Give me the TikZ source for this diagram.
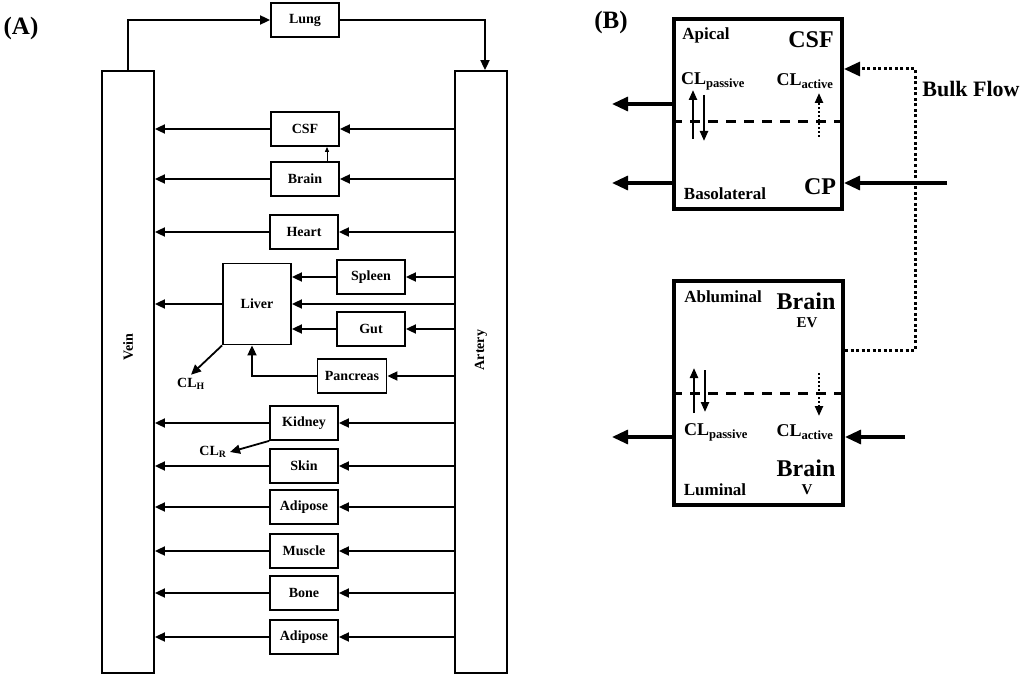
\documentclass[tikz,border=0pt]{standalone}
\usepackage{fontspec}
\setmainfont{Liberation Serif}
\usetikzlibrary{arrows.meta,positioning}

\begin{document}
\begin{tikzpicture}[x=1pt,y=-1pt]
\tikzstyle{every node}=[font=\bfseries\fontsize{14}{16}\selectfont];
\tikzstyle{organ}=[draw,line width=1.8pt,minimum width=68pt,minimum height=34pt,inner sep=0pt];
\tikzstyle{bar}=[draw,line width=1.8pt,minimum width=52pt,minimum height=602pt,inner sep=0pt];
\tikzstyle{flow}=[line width=1.8pt,-{Triangle[length=10pt,width=9pt]}];
\tikzstyle{tinyflow}=[line width=1pt,-{Triangle[length=5pt,width=4pt]}];
\tikzstyle{tank}=[draw,line width=4pt,inner sep=0pt];
\tikzstyle{bigflow}=[line width=3.2pt,-{Triangle[length=16pt,width=14pt]}];
\tikzstyle{passflow}=[line width=2.2pt,-{Triangle[length=10pt,width=8pt]}];
\tikzstyle{actflow}=[line width=2.2pt,dash pattern=on 2pt off 2pt,-{Triangle[length=10pt,width=8pt]}];
\tikzstyle{membrane}=[line width=3pt,dash pattern=on 10pt off 8pt];
\tikzstyle{bulk}=[line width=3pt,dash pattern=on 3pt off 2.5pt];
\tikzstyle{side}=[font=\bfseries\fontsize{17}{19}\selectfont];
\tikzstyle{big}=[font=\bfseries\fontsize{24}{26}\selectfont];
\tikzstyle{cl}=[font=\bfseries\fontsize{18}{20}\selectfont];
\tikzstyle{panel}=[font=\bfseries\fontsize{25}{27}\selectfont];
\useasboundingbox (0,0) rectangle (1024,679);

% (A) whole body model
\node[panel] (labA) at (21,28) {(A)};
\node[bar] (vein) at (128,372) {};
\node[bar] (artery) at (481,372) {};
\node[rotate=90] (veinlab) at (128,347) {Vein};
\node[rotate=90] (arterylab) at (481,350) {Artery};
\node[organ] (lung) at (305,20) {Lung};
\node[organ] (csf) at (305,129) {CSF};
\node[organ] (brain) at (305,179) {Brain};
\node[organ] (heart) at (304,232) {Heart};
\node[organ,minimum height=81pt] (liver) at (257,304) {Liver};
\node[organ] (spleen) at (371,277) {Spleen};
\node[organ] (gut) at (371,329) {Gut};
\node[organ,minimum width=69pt] (pancreas) at (352,376) {Pancreas};
\node[organ] (kidney) at (304,423) {Kidney};
\node[organ] (skin) at (304,466) {Skin};
\node[organ] (adiposeA) at (304,507) {Adipose};
\node[organ] (muscle) at (304,551) {Muscle};
\node[organ] (bone) at (304,593) {Bone};
\node[organ] (adiposeB) at (304,637) {Adipose};
\node (clh) at (191,384) {CL\textsubscript{H}};
\node (clr) at (213,452) {CL\textsubscript{R}};

\draw[flow] (vein.north) |- (lung.west);
\draw[flow] (lung.east) -| ([xshift=4pt]artery.north);
\draw[tinyflow] ([xshift=22pt]brain.north) -- ([xshift=22pt]csf.south);
\draw[flow] (artery.west |- csf) -- (csf.east);
\draw[flow] (csf.west) -- (vein.east |- csf);
\draw[flow] (artery.west |- brain) -- (brain.east);
\draw[flow] (brain.west) -- (vein.east |- brain);
\draw[flow] (artery.west |- heart) -- (heart.east);
\draw[flow] (heart.west) -- (vein.east |- heart);
\draw[flow] (artery.west |- spleen) -- (spleen.east);
\draw[flow] (spleen.west) -- (liver.east |- spleen);
\draw[flow] (artery.west |- liver) -- (liver.east);
\draw[flow] (artery.west |- gut) -- (gut.east);
\draw[flow] (gut.west) -- (liver.east |- gut);
\draw[flow] (artery.west |- pancreas) -- (pancreas.east);
\draw[flow] (pancreas.west) -| ([xshift=-5pt]liver.south);
\draw[flow] (liver.west) -- (vein.east |- liver);
\draw[flow] (liver.south west) -- (clh.north);
\draw[flow] (artery.west |- kidney) -- (kidney.east);
\draw[flow] (kidney.west) -- (vein.east |- kidney);
\draw[flow] (kidney.south west) -- (clr.east);
\draw[flow] (artery.west |- skin) -- (skin.east);
\draw[flow] (skin.west) -- (vein.east |- skin);
\draw[flow] (artery.west |- adiposeA) -- (adiposeA.east);
\draw[flow] (adiposeA.west) -- (vein.east |- adiposeA);
\draw[flow] (artery.west |- muscle) -- (muscle.east);
\draw[flow] (muscle.west) -- (vein.east |- muscle);
\draw[flow] (artery.west |- bone) -- (bone.east);
\draw[flow] (bone.west) -- (vein.east |- bone);
\draw[flow] (artery.west |- adiposeB) -- (adiposeB.east);
\draw[flow] (adiposeB.west) -- (vein.east |- adiposeB);

% (B) CSF and brain compartments
\node[panel] (labB) at (611,22) {(B)};
\node[tank,minimum width=168pt,minimum height=190pt] (csfbox) at (758,114) {};
\node[side] (apical) at (706,35) {Apical};
\node[big] (csfname) at (811,40) {CSF};
\node[cl] (csfpass) at (713,81) {CL\textsubscript{passive}};
\node[cl] (csfact) at (805,81) {CL\textsubscript{active}};
\node[side] (baso) at (725,194) {Basolateral};
\node[big] (cp) at (820,187) {CP};
\node[big,font=\bfseries\fontsize{22}{24}\selectfont] (bulkname) at (971,89) {Bulk Flow};
\coordinate (csfmem) at (758,122);
\coordinate (csfout) at (612,104);
\coordinate (cpout) at (612,183);
\coordinate (cpin) at (947,183);
\coordinate (bulktop) at (915,69);
\coordinate (bulkbot) at (915,350);

\node[tank,minimum width=169pt,minimum height=224pt] (brainbox) at (758.5,393) {};
\node[side] (ablum) at (723,297) {Abluminal};
\node[big] (evname) at (806,301) {Brain};
\node[side,font=\bfseries\fontsize{15}{17}\selectfont] (ev) at (807,323) {EV};
\node[cl] (brpass) at (716,432) {CL\textsubscript{passive}};
\node[cl] (bract) at (805,432) {CL\textsubscript{active}};
\node[big] (vname) at (806,468) {Brain};
\node[side,font=\bfseries\fontsize{15}{17}\selectfont] (v) at (807,490) {V};
\node[side] (lum) at (715,490) {Luminal};
\coordinate (brmem) at (758,393);
\coordinate (brout) at (612,437);
\coordinate (brin) at (905,437);

\draw[membrane] (csfbox.west |- csfmem) -- (csfbox.east |- csfmem);
\draw[passflow] (693,139) -- (693,90);
\draw[passflow] (704,95) -- (704,141);
\draw[actflow] (819,137) -- (819,93);
\draw[bigflow] (csfbox.west |- csfout) -- (csfout);
\draw[bigflow] (csfbox.west |- cpout) -- (cpout);
\draw[bigflow] (cpin) -- (csfbox.east |- cpin);
\draw[bulk,-{Triangle[length=16pt,width=14pt]}] (brainbox.east |- bulkbot) -- (bulkbot) -- (bulktop) -- (csfbox.east |- bulktop);

\draw[membrane] (brainbox.west |- brmem) -- (brainbox.east |- brmem);
\draw[passflow] (694,413) -- (694,368);
\draw[passflow] (705,370) -- (705,412);
\draw[actflow] (819,373) -- (819,416);
\draw[bigflow] (brainbox.west |- brout) -- (brout);
\draw[bigflow] (brin) -- (brainbox.east |- brin);
\end{tikzpicture}
\end{document}
